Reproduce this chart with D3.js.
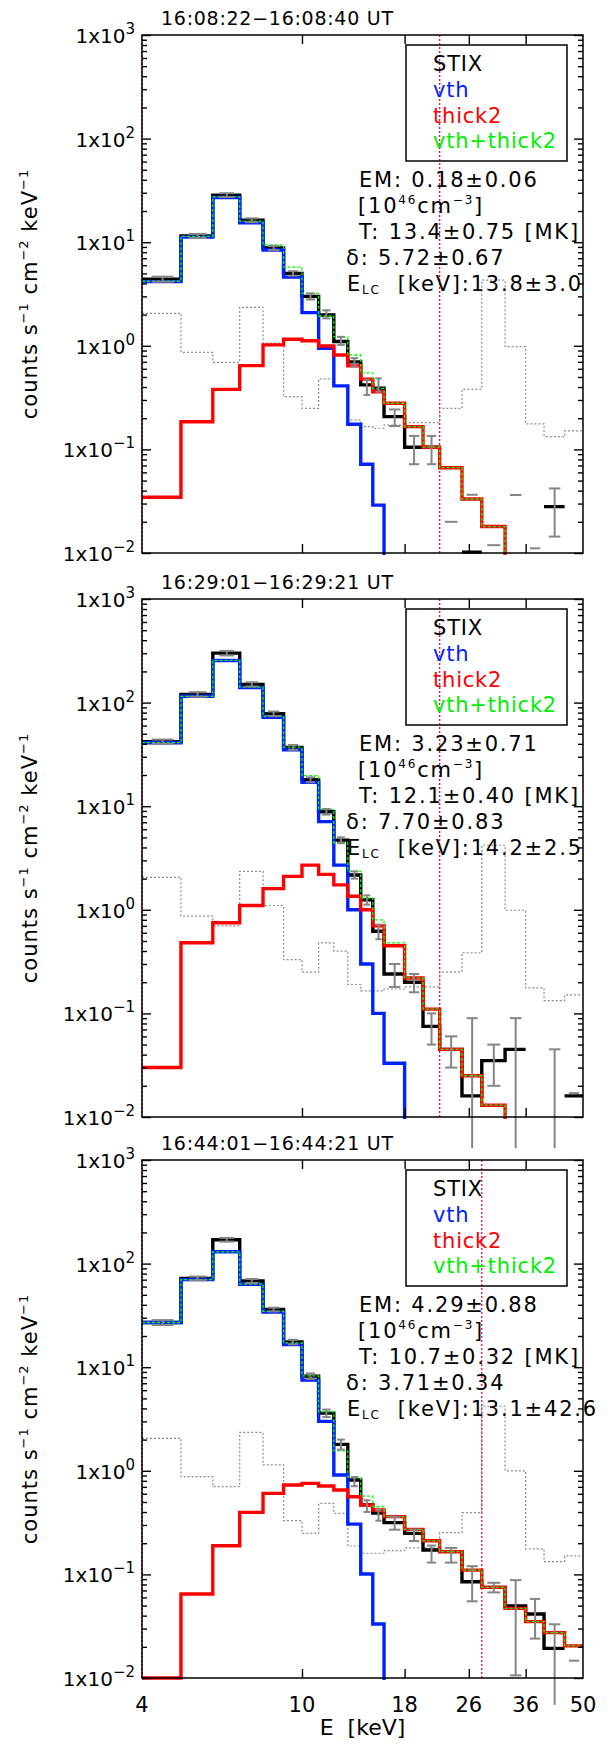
<!DOCTYPE html>
<html lang="en">
<head>
<meta charset="UTF-8">
<title>STIX spectral fits</title>
<script src="https://d3js.org/d3.v7.min.js"></script>
<style>
  body { margin: 0; background: #fff; }
  svg { display: block; font-family: "DejaVu Sans", sans-serif; }
  text { white-space: pre; }
  .axis path { display: none; }
  .axis line { stroke: #000; stroke-width: 1.4; }
  .frame { fill: none; stroke: #000; stroke-width: 1.5; }
  .bkg { fill: none; stroke: #8c8c8c; stroke-width: 1.2; stroke-dasharray: 2 2; }
  .stix { fill: none; stroke: #000; stroke-width: 3.4; }
  .vth { fill: none; stroke: #0022ff; stroke-width: 3.4; }
  .thick { fill: none; stroke: #ff0000; stroke-width: 3.4; }
  .sum { fill: none; stroke: #00ff00; stroke-width: 1.3; stroke-dasharray: 3 2; }
  .err { stroke: #858585; stroke-width: 2; }
  .fit { stroke: #ff0040; stroke-width: 1.3; stroke-dasharray: 2 2; }
</style>
</head>
<body>
<svg width="612" height="1744"></svg>
<script>
// energy bin edges (keV)
const edges = [4, 5, 6, 7, 8, 9, 10, 11, 12, 13, 14, 15, 16, 18, 20, 22, 25, 28, 32, 36, 40, 45, 50];
const xTicks = [4, 10, 18, 26, 36, 50];
const yTicks = [0.01, 0.1, 1, 10, 100, 1000];
const yExp = ["\u22122", "\u22121", "0", "1", "2", "3"];
const titles = ["16:08:22\u221216:08:40 UT", "16:29:01\u221216:29:21 UT", "16:44:01\u221216:44:21 UT"];
const fitLow = [4, 4, 4];
const fitHigh = [22, 22, 28];
const emText = ["0.18\u00b10.06", "3.23\u00b10.71", "4.29\u00b10.88"];
const tText = ["13.4\u00b10.75", "12.1\u00b10.40", "10.7\u00b10.32"];
const deltaText = ["5.72\u00b10.67", "7.70\u00b10.83", "3.71\u00b10.34"];
const elcText = ["13.8\u00b13.0", "14.2\u00b12.5", "13.1\u00b142.6"];
const legendNames = ["STIX", "vth", "thick2", "vth+thick2"];
const legendColors = ["#000000", "#0022ff", "#ff0000", "#00ee00"];

// panel 1 : 16:08:22
const stix1 = [4.4, 11.5, 28.5, 16.3, 8.8, 5.0, 3.0, 1.98, 1.1, 0.70, 0.42, 0.39, 0.207, 0.105, 0.105, null, 0.0102, null, null, null, 0.028, null];
const lo1 = [4.15, 11.0, 27.3, 15.6, 8.4, 4.75, 2.8, 1.84, 1.02, 0.63, 0.335, 0.36, 0.168, 0.072, 0.072, null, null, null, null, null, 0.0144, null];
const hi1 = [4.65, 12.0, 29.7, 17.0, 9.2, 5.25, 3.2, 2.2, 1.22, 0.76, 0.47, 0.485, 0.243, 0.135, 0.135, 0.020, 0.0365, 0.0119, 0.0363, 0.0111, 0.042, null];
const vth1 = [4.16, 11.2, 27.0, 15.4, 8.4, 4.6, 2.09, 0.946, 0.41, 0.175, 0.0718, 0.029, 1e-4, 1e-4, 1e-4, 1e-4, 1e-4, 1e-4, 1e-4, 1e-4, 1e-4, 1e-4];
const thick1 = [0.0345, 0.185, 0.38, 0.643, 1.02, 1.155, 1.12, 0.995, 0.815, 0.64, 0.475, 0.36, 0.279, 0.166, 0.105, 0.0666, 0.0332, 0.018, 1e-4, 1e-4, 1e-4, 1e-4];
const sum1 = [4.2, 11.4, 27.4, 16.0, 9.4, 5.75, 3.2, 1.94, 1.22, 0.815, 0.547, 0.389, 0.279, 0.166, 0.105, 0.0666, 0.0332, 0.018, 1e-4, 1e-4, 1e-4, 1e-4];
const bkg1 = [2.06, 0.865, 0.693, 2.35, 1.06, 0.323, 0.249, 0.479, 0.41, 0.192, 0.166, 0.16, 0.172, 0.181, 0.181, 0.249, 0.38, 4.3, 0.98, 0.176, 0.133, 0.151];

// panel 2 : 16:29:01
const stix2 = [42, 120, 300, 150, 78, 37, 18, 8.85, 4.7, 2.17, 1.25, 0.62, 0.24, 0.2, 0.075, 0.045, 0.016, 0.035, 0.045, null, null, 0.016];
const lo2 = [40, 114, 285, 143, 74, 35, 17, 8.3, 4.4, 2.0, 1.12, 0.52, 0.18, 0.16, 0.05, 0.03, 0.005, 0.02, 0.005, null, 0.005, null];
const hi2 = [44, 126, 315, 157, 82, 39, 19, 9.4, 5.0, 2.35, 1.38, 0.72, 0.3, 0.24, 0.1, 0.06, 0.09, 0.05, 0.09, null, 0.045, 0.017];
const vth2 = [41, 115, 255, 140, 72, 35, 17, 7.1, 2.7, 1.0, 0.3, 0.1, 0.033, 1e-4, 1e-4, 1e-4, 1e-4, 1e-4, 1e-4, 1e-4, 1e-4, 1e-4];
const thick2 = [0.03, 0.48, 0.75, 1.1, 1.6, 2.1, 2.7, 2.2, 1.74, 1.35, 1.0, 0.7, 0.45, 0.22, 0.11, 0.045, 0.025, 0.013, 1e-4, 1e-4, 1e-4, 1e-4];
const sum2 = [41, 115, 256, 141, 73.6, 37.1, 19.7, 9.3, 4.44, 2.35, 1.3, 0.8, 0.48, 0.22, 0.11, 0.045, 0.025, 0.013, 1e-4, 1e-4, 1e-4, 1e-4];
const bkg2 = [2.06, 0.87, 0.70, 2.35, 1.1, 0.33, 0.25, 0.48, 0.40, 0.19, 0.165, 0.165, 0.172, 0.18, 0.18, 0.25, 0.385, 4.2, 0.99, 0.176, 0.133, 0.151];

// panel 3 : 16:44:01
const stix3 = [27, 72, 170, 68, 36, 17.5, 8.2, 3.6, 1.8, 0.815, 0.47, 0.39, 0.316, 0.249, 0.172, 0.166, 0.085, 0.075, 0.0496, 0.0415, 0.0193, null];
const lo3 = [25.5, 69, 163, 65, 34.5, 16.6, 7.7, 3.3, 1.6, 0.71, 0.40, 0.33, 0.27, 0.21, 0.13, 0.13, 0.055, 0.067, 0.0106, 0.024, 0.0055, null];
const hi3 = [28.5, 75, 177, 71, 37.5, 18.4, 8.7, 3.9, 2.0, 0.87, 0.52, 0.42, 0.36, 0.27, 0.19, 0.18, 0.12, 0.083, 0.088, 0.058, 0.033, 0.0147];
const vth3 = [27, 70, 130, 63, 34, 16.5, 7.5, 3.0, 0.91, 0.306, 0.101, 0.0332, 1e-4, 1e-4, 1e-4, 1e-4, 1e-4, 1e-4, 1e-4, 1e-4, 1e-4, 1e-4];
const thick3 = [0.01, 0.0647, 0.189, 0.397, 0.605, 0.73, 0.757, 0.713, 0.653, 0.562, 0.468, 0.419, 0.361, 0.272, 0.211, 0.166, 0.110, 0.075, 0.047, 0.035, 0.0274, 0.0204];
const sum3 = [27, 70, 130, 63.4, 34.6, 17.2, 8.26, 3.71, 1.56, 0.87, 0.57, 0.45, 0.361, 0.272, 0.211, 0.166, 0.110, 0.075, 0.047, 0.035, 0.0274, 0.0204];
const bkg3 = [2.06, 0.877, 0.703, 2.35, 1.14, 0.33, 0.249, 0.485, 0.389, 0.188, 0.16, 0.16, 0.17, 0.18, 0.18, 0.253, 0.394, 4.2, 1.0, 0.176, 0.133, 0.151];

const panels = [
  { stix: stix1, lo: lo1, hi: hi1, vth: vth1, thick: thick1, sum: sum1, bkg: bkg1 },
  { stix: stix2, lo: lo2, hi: hi2, vth: vth2, thick: thick2, sum: sum2, bkg: bkg2 },
  { stix: stix3, lo: lo3, hi: hi3, vth: vth3, thick: thick3, sum: sum3, bkg: bkg3 }
];

const svg = d3.select("svg");
const left = 142, right = 583, plotH = 518;
const tops = [35, 599, 1160];

const x = d3.scaleLog().domain([4, 50]).range([left, right]);

// minor ticks 2..9 inside each decade
const minorTicks = [];
yTicks.slice(0, -1).forEach(m => d3.range(2, 10).forEach(k => minorTicks.push(m * k)));

// turn per-bin values into the corners of a histogram step line
const steps = vals => vals.flatMap((v, i) => [[edges[i], v], [edges[i + 1], v]]);

panels.forEach((p, k) => {
  const top = tops[k], bottom = top + plotH;
  const y = d3.scaleLog().domain([0.01, 1000]).range([bottom, top]);
  const g = svg.append("g");

  const line = d3.line()
    .defined(d => d[1] != null)
    .x(d => x(d[0]))
    .y(d => y(d[1]));

  svg.append("clipPath").attr("id", "clip" + k)
    .append("rect")
    .attr("x", left - 2).attr("y", top - 2)
    .attr("width", right - left + 4).attr("height", plotH + 4);

  const plot = g.append("g").attr("clip-path", `url(#clip${k})`);

  // fit range markers
  [fitLow[k], fitHigh[k]].forEach(e => {
    plot.append("line").attr("class", "fit")
      .attr("x1", x(e)).attr("x2", x(e))
      .attr("y1", top).attr("y2", bottom);
  });

  plot.append("path").attr("class", "bkg").attr("d", line(steps(p.bkg)));
  plot.append("path").attr("class", "stix").attr("d", line(steps(p.stix)));
  plot.append("path").attr("class", "vth").attr("d", line(steps(p.vth)));
  plot.append("path").attr("class", "thick").attr("d", line(steps(p.thick)));

  // error bars (not clipped, as in the original); cap width follows bin width
  const eb = g.append("g");
  p.hi.forEach((h, i) => {
    if (h == null) return;
    const cx = x((edges[i] + edges[i + 1]) / 2);
    const cw = 0.28 * (x(edges[i + 1]) - x(edges[i]));
    const l = p.lo[i];
    if (l != null) {
      eb.append("line").attr("class", "err")
        .attr("x1", cx).attr("x2", cx).attr("y1", y(l)).attr("y2", y(h));
      if (y(l) <= bottom) {
        eb.append("line").attr("class", "err")
          .attr("x1", cx - cw).attr("x2", cx + cw).attr("y1", y(l)).attr("y2", y(l));
      }
    }
    eb.append("line").attr("class", "err")
      .attr("x1", cx - cw).attr("x2", cx + cw).attr("y1", y(h)).attr("y2", y(h));
  });

  plot.append("path").attr("class", "sum").attr("d", line(steps(p.sum)));

  // axes, ticks pointing inwards
  g.append("g").attr("class", "axis").attr("transform", `translate(${left},0)`)
    .call(d3.axisRight(y).tickValues(yTicks).tickSize(9).tickFormat(""));
  g.append("g").attr("class", "axis").attr("transform", `translate(${left},0)`)
    .call(d3.axisRight(y).tickValues(minorTicks).tickSize(5).tickFormat(""));
  g.append("g").attr("class", "axis").attr("transform", `translate(${right},0)`)
    .call(d3.axisLeft(y).tickValues(yTicks).tickSize(9).tickFormat(""));
  g.append("g").attr("class", "axis").attr("transform", `translate(${right},0)`)
    .call(d3.axisLeft(y).tickValues(minorTicks).tickSize(5).tickFormat(""));
  g.append("g").attr("class", "axis").attr("transform", `translate(0,${top})`)
    .call(d3.axisBottom(x).tickValues(xTicks.slice(1, -1)).tickSize(9).tickFormat(""));
  g.append("g").attr("class", "axis").attr("transform", `translate(0,${bottom})`)
    .call(d3.axisTop(x).tickValues(xTicks.slice(1, -1)).tickSize(9).tickFormat(""));

  g.append("rect").attr("class", "frame")
    .attr("x", left).attr("y", top).attr("width", right - left).attr("height", plotH);

  // y tick labels 1x10^n
  yTicks.forEach((t, i) => {
    const tx = g.append("text")
      .attr("x", 135).attr("y", y(t) + 8)
      .attr("text-anchor", "end").attr("font-size", 20);
    tx.append("tspan").text("1x10");
    tx.append("tspan").attr("font-size", 15).attr("dy", -9).text(yExp[i]);
  });

  // y axis title
  const yl = g.append("text")
    .attr("transform", `translate(37,${(top + bottom) / 2}) rotate(-90)`)
    .attr("text-anchor", "middle").attr("font-size", 21).attr("letter-spacing", 1);
  yl.append("tspan").text("counts s");
  yl.append("tspan").attr("font-size", 13).attr("dy", -9).text("\u22121");
  yl.append("tspan").attr("dy", 9).text(" cm");
  yl.append("tspan").attr("font-size", 13).attr("dy", -9).text("\u22122");
  yl.append("tspan").attr("dy", 9).text(" keV");
  yl.append("tspan").attr("font-size", 13).attr("dy", -9).text("\u22121");

  // panel title
  g.append("text").attr("x", 161).attr("y", top - 10)
    .attr("font-size", 19).attr("textLength", 232).attr("lengthAdjust", "spacing")
    .text(titles[k]);

  // legend
  g.append("rect").attr("class", "frame")
    .attr("x", 406).attr("y", top + 10).attr("width", 161).attr("height", 116);
  legendNames.forEach((n, i) => {
    g.append("text").attr("x", 433).attr("y", top + 36 + i * 25.8)
      .attr("font-size", 21).attr("letter-spacing", 0.8)
      .attr("fill", legendColors[i]).text(n);
  });

  // fit results
  const st = g.append("g").attr("font-size", 21).attr("letter-spacing", 1.8);
  st.append("text").attr("x", 359).attr("y", top + 152)
    .text("EM: " + emText[k]);
  const u = st.append("text").attr("x", 358).attr("y", top + 177.5);
  u.append("tspan").text("[10");
  u.append("tspan").attr("font-size", 12).attr("dy", -9).text("46");
  u.append("tspan").attr("dy", 9).text("cm");
  u.append("tspan").attr("font-size", 12).attr("dy", -9).text("\u22123");
  u.append("tspan").attr("dy", 9).text("]");
  st.append("text").attr("x", 359).attr("y", top + 204)
    .text("T: " + tText[k] + " [MK]");
  st.append("text").attr("x", 346).attr("y", top + 230)
    .text("\u03b4: " + deltaText[k]);
  const el = st.append("text").attr("x", 347).attr("y", top + 256);
  el.append("tspan").text("E");
  el.append("tspan").attr("font-size", 12).attr("dy", 3).text("LC");
  el.append("tspan").attr("dy", -3).text("  [keV]:" + elcText[k]);

  // energy labels only under the last panel
  if (k === panels.length - 1) {
    xTicks.forEach(t => {
      g.append("text").attr("x", x(t)).attr("y", bottom + 34)
        .attr("text-anchor", "middle").attr("font-size", 21).text(t);
    });
    g.append("text").attr("x", (left + right) / 2).attr("y", bottom + 57)
      .attr("text-anchor", "middle").attr("font-size", 22).text("E  [keV]");
  }
});
</script>
</body>
</html>
